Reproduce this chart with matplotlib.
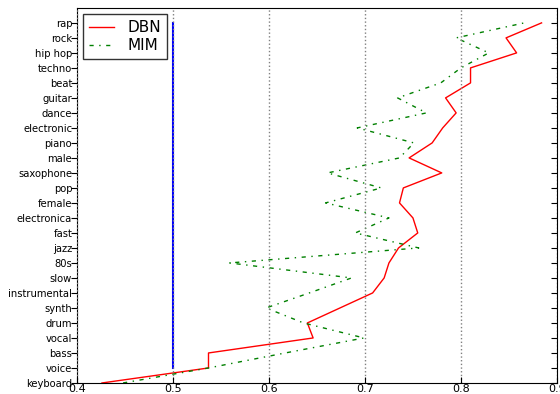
import matplotlib
matplotlib.use("Agg")
import matplotlib.pyplot as plt

tags = ["keyboard", "voice", "bass", "vocal", "drum", "synth", "instrumental",
        "slow", "80s", "jazz", "fast", "electronica", "female", "pop",
        "saxophone", "male", "piano", "electronic", "dance", "guitar", "beat",
        "techno", "hip hop", "rock", "rap"]

dbn = [0.426, 0.537, 0.537, 0.646, 0.640, 0.674, 0.708,
       0.720, 0.725, 0.735, 0.755, 0.750, 0.736, 0.740,
       0.780, 0.746, 0.770, 0.781, 0.795, 0.784, 0.810,
       0.810, 0.858, 0.847, 0.884]

mim = [0.448, 0.537, 0.617, 0.699, 0.636, 0.597, 0.642,
       0.686, 0.559, 0.756, 0.690, 0.725, 0.659, 0.717,
       0.661, 0.736, 0.751, 0.692, 0.764, 0.734, 0.779,
       0.800, 0.829, 0.795, 0.866]

baseline = 0.5

pos = list(range(len(tags)))

fig = plt.figure(figsize=(5.6, 3.94), dpi=100)
ax = fig.add_axes([0.1375, 0.028, 0.857, 0.952])

ax.plot([baseline, baseline], [1, len(tags) - 1], color="blue", lw=1.5)
ax.plot(dbn, pos, color="red", lw=1, label="DBN")
ax.plot(mim, pos, color="green", lw=1, dashes=(3, 4, 1, 4), label="MIM")

ax.set_xlim(0.4, 0.9)
ax.set_ylim(0, len(tags))
ax.set_xticks([0.4, 0.5, 0.6, 0.7, 0.8, 0.9])
ax.set_yticks(pos)
ax.set_yticklabels(tags)
ax.xaxis.grid(True, ls=":", color="gray", lw=1)
ax.set_axisbelow(False)
ax.tick_params(axis="y", left=True, right=True, direction="in", length=4, labelsize=7.2)
ax.tick_params(axis="x", direction="in", length=4, labelsize=8, pad=1)
for t in ax.yaxis.get_major_ticks():
    t.tick1line.set_marker(0)
    t.tick1line.set_markersize(4)

ax.legend(loc="upper left", fontsize=11, handlelength=1.6, handletextpad=0.9,
          fancybox=False, edgecolor="black", borderaxespad=0.4,
          labelspacing=0.2, borderpad=0.4)

fig.savefig("out.png", dpi=100)
